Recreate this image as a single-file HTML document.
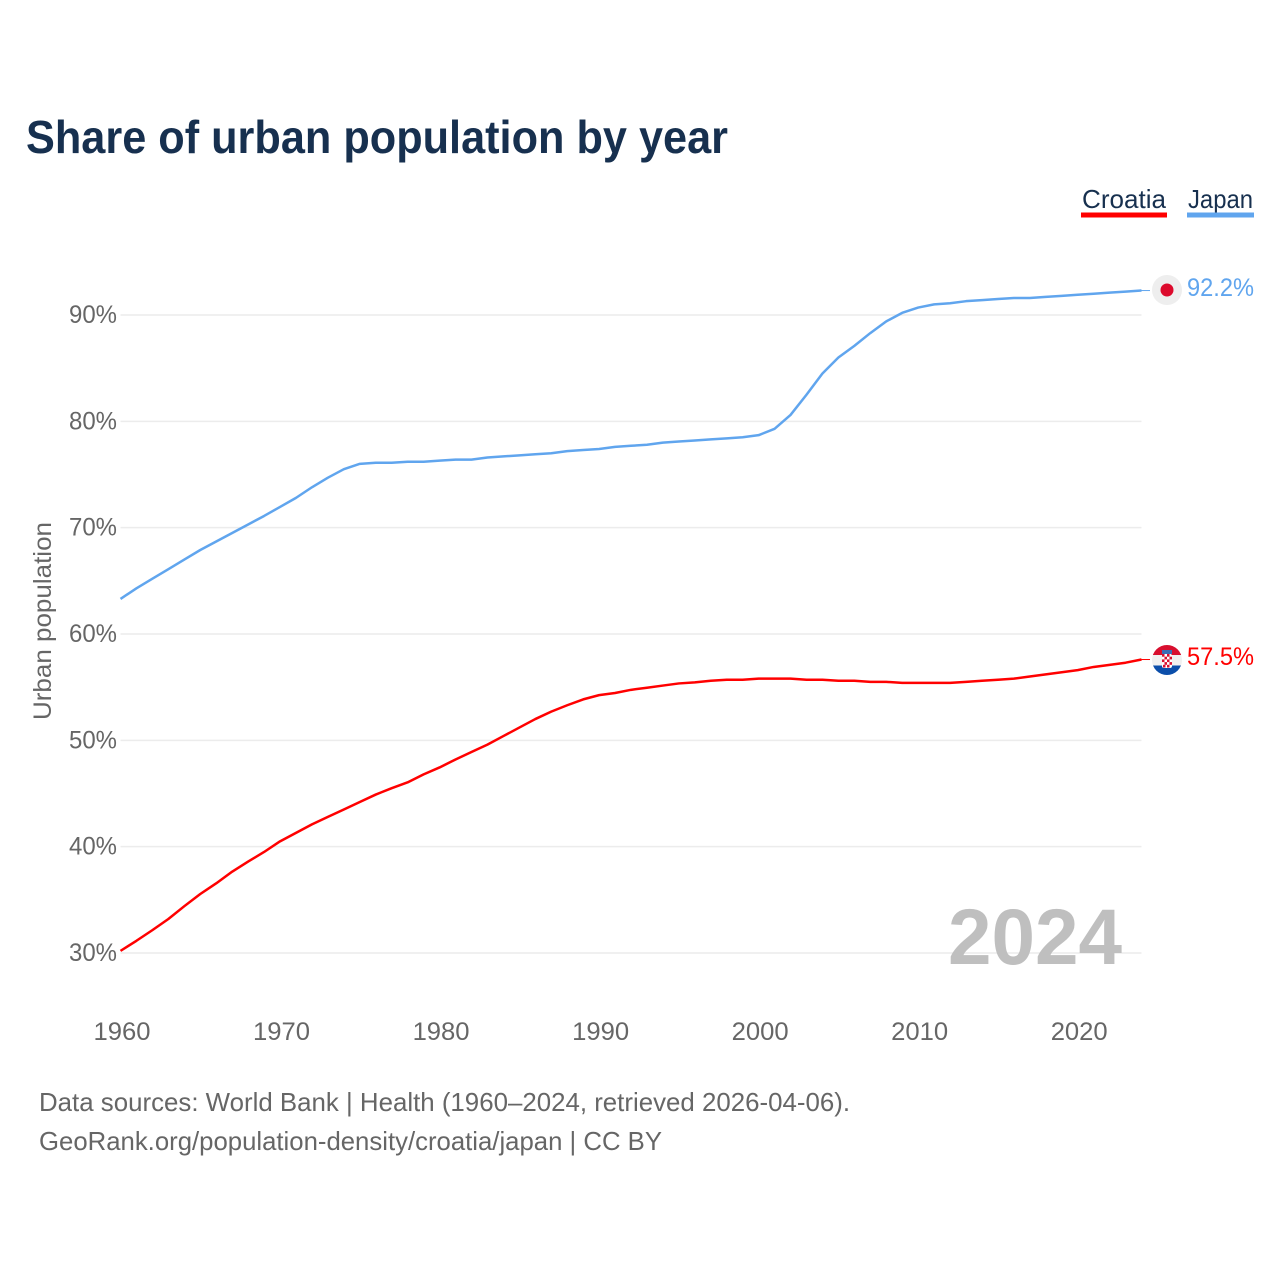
<!DOCTYPE html>
<html lang="en">
<head>
<meta charset="utf-8">
<title>Share of urban population by year</title>
<style>
html,body{margin:0;padding:0;background:#fff;width:1280px;height:1280px;overflow:hidden}
svg{display:block}
text{font-family:"Liberation Sans",sans-serif}
</style>
</head>
<body>
<svg id="chart" xmlns="http://www.w3.org/2000/svg" width="1280" height="1280" viewBox="0 0 1280 1280">
  <text x="26" y="153" font-size="46" font-weight="700" fill="#17304f" textLength="702" lengthAdjust="spacingAndGlyphs">Share of urban population by year</text>

  <g>
    <g>
      <text x="1082" y="208" font-size="26" fill="#17304f" textLength="84" lengthAdjust="spacingAndGlyphs">Croatia</text>
      <rect x="1081" y="212.5" width="86" height="5" fill="#ff0000"/>
    </g>
    <g>
      <text x="1188" y="208" font-size="26" fill="#17304f" textLength="65" lengthAdjust="spacingAndGlyphs">Japan</text>
      <rect x="1187" y="212.5" width="67" height="5" fill="#60a5ee"/>
    </g>
  </g>

  <g id="grid"></g>
  <g id="yticks"></g>
  <g id="xticks"></g>

  <text transform="translate(51 720) rotate(-90)" font-size="25" fill="#666666" textLength="198" lengthAdjust="spacingAndGlyphs">Urban population</text>

  <text x="948" y="964" font-size="79" font-weight="700" fill="#bfbfbf" textLength="174" lengthAdjust="spacingAndGlyphs">2024</text>

  <g id="series"></g>

  <g>
    <circle cx="1167" cy="290" r="15" fill="#eeeeee"/>
    <circle cx="1167" cy="290" r="6.5" fill="#dc0a2c"/>
    <text x="1187" y="296" font-size="25" fill="#60a5ee" textLength="67" lengthAdjust="spacingAndGlyphs">92.2%</text>
  </g>

  <g>
    <clipPath id="flagClip"><circle cx="1167" cy="660" r="15"/></clipPath>
    <g clip-path="url(#flagClip)">
      <rect x="1152" y="645" width="30" height="10" fill="#d80f2f"/>
      <rect x="1152" y="655" width="30" height="10.5" fill="#f0f0f0"/>
      <rect x="1152" y="665.5" width="30" height="9.5" fill="#0b4eaa"/>
      <rect x="1162" y="650" width="10" height="4" fill="#3a6db5"/>
      <rect x="1162" y="654" width="10" height="14" rx="2" fill="#ffffff"/>
      <g fill="#d80f2f">
        <rect x="1162" y="654" width="2.5" height="2.7"/><rect x="1167" y="654" width="2.5" height="2.7"/>
        <rect x="1164.5" y="656.7" width="2.5" height="2.7"/><rect x="1169.5" y="656.7" width="2.5" height="2.7"/>
        <rect x="1162" y="659.4" width="2.5" height="2.7"/><rect x="1167" y="659.4" width="2.5" height="2.7"/>
        <rect x="1164.5" y="662.1" width="2.5" height="2.7"/><rect x="1169.5" y="662.1" width="2.5" height="2.7"/>
        <rect x="1163" y="664.8" width="2.5" height="2.7"/><rect x="1167" y="664.8" width="2.5" height="2.7"/>
      </g>
    </g>
    <text x="1187" y="665" font-size="25" fill="#ff0000" textLength="67" lengthAdjust="spacingAndGlyphs">57.5%</text>
  </g>

  <g>
    <text x="39" y="1111" font-size="26" fill="#666666" textLength="811" lengthAdjust="spacingAndGlyphs">Data sources: World Bank | Health (1960–2024, retrieved 2026-04-06).</text>
    <text x="39" y="1150" font-size="26" fill="#666666" textLength="623" lengthAdjust="spacingAndGlyphs">GeoRank.org/population-density/croatia/japan | CC BY</text>
  </g>
</svg>
<script>
const firstYear = 1960;
const japanValues = [63.3,64.3,65.2,66.1,67.0,67.9,68.7,69.5,70.3,71.1,71.95,72.8,73.8,74.7,75.5,76.0,76.1,76.1,76.2,76.2,76.3,76.4,76.4,76.6,76.7,76.8,76.9,77.0,77.2,77.3,77.4,77.6,77.7,77.8,78.0,78.1,78.2,78.3,78.4,78.5,78.7,79.3,80.6,82.5,84.5,86.0,87.1,88.3,89.4,90.2,90.7,91.0,91.1,91.3,91.4,91.5,91.6,91.6,91.7,91.8,91.9,92.0,92.1,92.2,92.3];
const croatiaValues = [30.2,31.15,32.15,33.2,34.4,35.55,36.55,37.65,38.6,39.5,40.5,41.3,42.1,42.8,43.5,44.2,44.9,45.5,46.05,46.8,47.45,48.2,48.9,49.6,50.4,51.2,52.0,52.7,53.3,53.85,54.25,54.45,54.75,54.95,55.15,55.35,55.45,55.6,55.7,55.7,55.8,55.8,55.8,55.7,55.7,55.6,55.6,55.5,55.5,55.4,55.4,55.4,55.4,55.5,55.6,55.7,55.8,56.0,56.2,56.4,56.6,56.9,57.1,57.3,57.6];
const yTickValues = [30,40,50,60,70,80,90];
const xTickYears = [1960,1970,1980,1990,2000,2010,2020];

const NS = 'http://www.w3.org/2000/svg';
const xScale = function (year) { return 120.5 + (year - 1960) * (1141.5 - 120.5) / 64; };
const yScale = function (v) { return 953 - (v - 30) * (953 - 315) / 60; };

const grid = document.getElementById('grid');
const yticks = document.getElementById('yticks');
const xticks = document.getElementById('xticks');
const series = document.getElementById('series');

yTickValues.forEach(function (v) {
  const line = document.createElementNS(NS, 'line');
  
  
  line.setAttribute('x1', xScale(1960));
  line.setAttribute('x2', xScale(2024));
  line.setAttribute('y1', yScale(v));
  line.setAttribute('y2', yScale(v));
  line.setAttribute('stroke', '#ececec');
  line.setAttribute('stroke-width', '1.5');
  grid.appendChild(line);

  const label = document.createElementNS(NS, 'text');
  
  
  label.setAttribute('x', 69);
  label.setAttribute('y', yScale(v) + 8);
  label.setAttribute('font-size', '25');
  label.setAttribute('fill', '#666666');
  label.setAttribute('textLength', '48');
  label.setAttribute('lengthAdjust', 'spacingAndGlyphs');
  label.textContent = v + '%';
  yticks.appendChild(label);
});

xTickYears.forEach(function (year) {
  const label = document.createElementNS(NS, 'text');
  
  
  label.setAttribute('x', xScale(year) - 27);
  label.setAttribute('y', 1040);
  label.setAttribute('font-size', '25');
  label.setAttribute('fill', '#666666');
  label.setAttribute('textLength', '57');
  label.setAttribute('lengthAdjust', 'spacingAndGlyphs');
  label.textContent = year;
  xticks.appendChild(label);
});

function pointsOf(values) {
  return values.map(function (v, i) {
    return xScale(firstYear + i).toFixed(2) + ',' + yScale(v).toFixed(2);
  }).join(' ');
}

const japanLine = document.createElementNS(NS, 'polyline');


japanLine.setAttribute('points', pointsOf(japanValues));
japanLine.setAttribute('fill', 'none');
japanLine.setAttribute('stroke', '#60a5ee');
japanLine.setAttribute('stroke-width', '2.5');
japanLine.setAttribute('stroke-linejoin', 'round');
series.appendChild(japanLine);

const croatiaLine = document.createElementNS(NS, 'polyline');


croatiaLine.setAttribute('points', pointsOf(croatiaValues));
croatiaLine.setAttribute('fill', 'none');
croatiaLine.setAttribute('stroke', '#ff0000');
croatiaLine.setAttribute('stroke-width', '2.5');
croatiaLine.setAttribute('stroke-linejoin', 'round');
series.appendChild(croatiaLine);

const japanConnector = document.createElementNS(NS, 'line');


japanConnector.setAttribute('x1', xScale(2024));
japanConnector.setAttribute('x2', 1150);
japanConnector.setAttribute('y1', yScale(japanValues[japanValues.length - 1]));
japanConnector.setAttribute('y2', yScale(japanValues[japanValues.length - 1]));
japanConnector.setAttribute('stroke', '#60a5ee');
japanConnector.setAttribute('stroke-width', '1');
series.appendChild(japanConnector);

const croatiaConnector = document.createElementNS(NS, 'line');


croatiaConnector.setAttribute('x1', xScale(2024));
croatiaConnector.setAttribute('x2', 1150);
croatiaConnector.setAttribute('y1', yScale(croatiaValues[croatiaValues.length - 1]));
croatiaConnector.setAttribute('y2', yScale(croatiaValues[croatiaValues.length - 1]));
croatiaConnector.setAttribute('stroke', '#ff0000');
croatiaConnector.setAttribute('stroke-width', '1');
series.appendChild(croatiaConnector);
</script>
</body>
</html>
